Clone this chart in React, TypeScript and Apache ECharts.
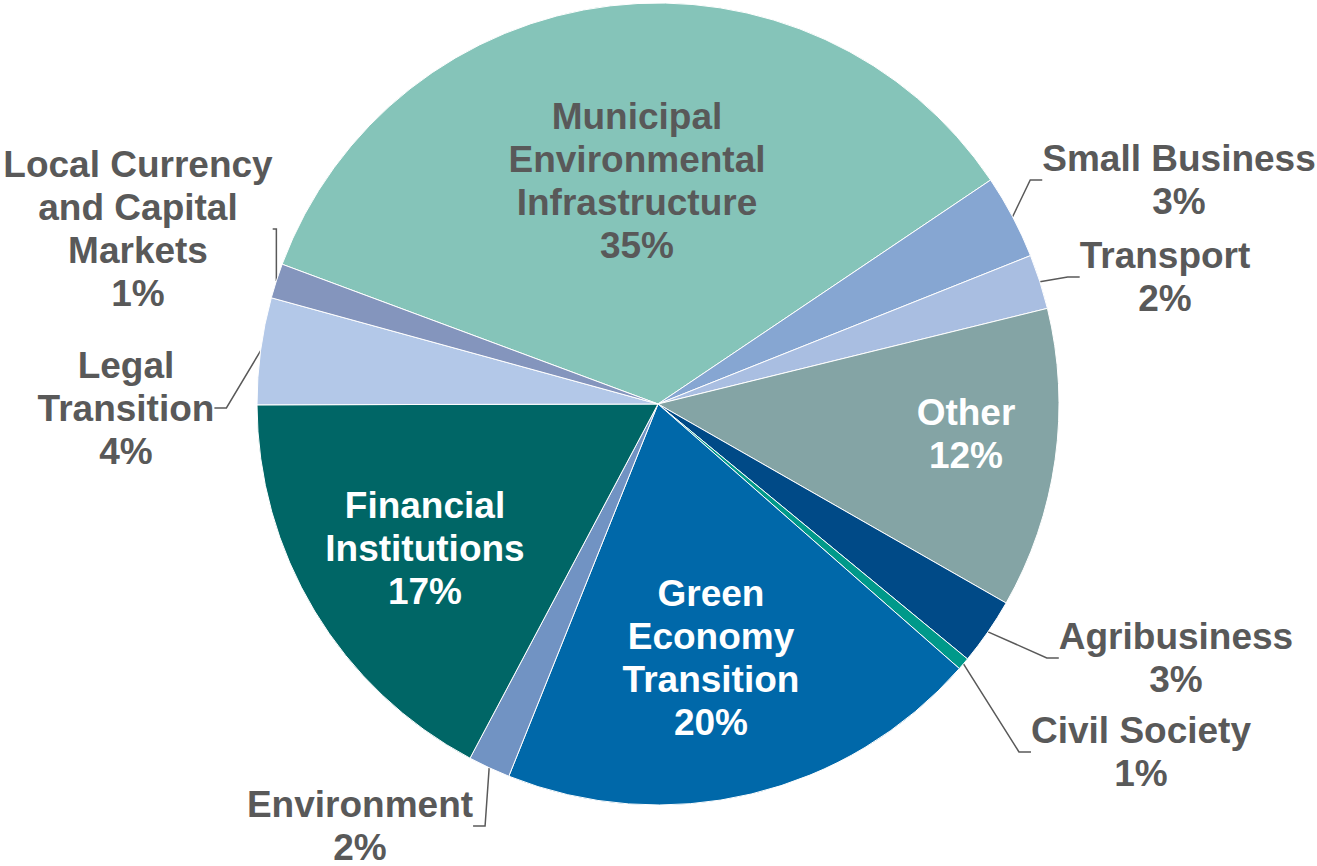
import React, { useEffect, useRef } from "react";
import * as echarts from "echarts";

const categories = [
  "Municipal\nEnvironmental\nInfrastructure",
  "Small Business",
  "Transport",
  "Other",
  "Agribusiness",
  "Civil Society",
  "Green\nEconomy\nTransition",
  "Environment",
  "Financial\nInstitutions",
  "Legal\nTransition",
  "Local Currency\nand Capital\nMarkets",
];

const values = [34.9, 3.4, 2.2, 12.1, 2.7, 0.5, 19.6, 1.7, 17.2, 4.3, 1.4];

const colors = [
  "#85C4B9",
  "#86A6D2",
  "#A9BEE1",
  "#84A4A5",
  "#004A87",
  "#00998A",
  "#0068A9",
  "#7193C3",
  "#006666",
  "#B3C8E8",
  "#8495BD",
];

// which labels sit inside their slice, and their text colour
const insideLabel = [true, false, false, true, false, false, true, false, true, false, false];
const insideColor = ["#595959", "", "", "#ffffff", "", "", "#ffffff", "", "#ffffff", "", ""];

// label anchor positions (centre of text block)
const labelPos: [number, number][] = [
  [637, 181],
  [1179, 180],
  [1165, 277],
  [966, 434],
  [1176, 658],
  [1141, 752],
  [711, 658],
  [360, 826],
  [425, 548],
  [126, 408],
  [138, 229],
];

export default function App() {
  const ref = useRef<HTMLDivElement>(null);
  useEffect(() => {
    if (!ref.current) return;
    const chart = echarts.init(ref.current, null, { renderer: "svg" });
    const total = values.reduce((a, b) => a + b, 0);
    const pctText = (i: number) =>
      Math.round(Number(((values[i] / total) * 100).toFixed(2))) + "%";
    const data = categories.map((name, i) => ({
      name,
      value: values[i],
      itemStyle: { color: colors[i] },
      label: insideLabel[i]
        ? { position: "inside", color: insideColor[i] }
        : { position: "outside", color: "#595959" },
      labelLine: { show: !insideLabel[i] },
    }));
    chart.setOption({
      animation: false,
      backgroundColor: "#ffffff",
      series: [
        {
          type: "pie",
          center: [658, 404],
          radius: 401,
          startAngle: 159.6,
          clockwise: true,
          avoidLabelOverlap: false,
          itemStyle: { borderColor: "#ffffff", borderWidth: 1 },
          label: {
            show: true,
            fontFamily: "'Liberation Sans', Arial, Helvetica, sans-serif",
            fontWeight: "bold",
            fontSize: 37,
            lineHeight: 43,
            color: "#595959",
            formatter: (p: any) => `${p.name}\n${pctText(p.dataIndex)}`,
          },
          labelLine: {
            show: true,
            length: 20,
            length2: 12,
            lineStyle: { color: "#595959", width: 1.5 },
          },
          labelLayout: (params: any) => {
            const pos = labelPos[params.dataIndex];
            return { x: pos[0], y: pos[1], align: "center", verticalAlign: "middle" };
          },
          emphasis: { disabled: true },
          data,
        },
      ],
    });
    return () => chart.dispose();
  }, []);
  return (
    <div
      ref={ref}
      style={{ position: "fixed", left: 0, top: 0, width: 1317, height: 866 }}
    />
  );
}
